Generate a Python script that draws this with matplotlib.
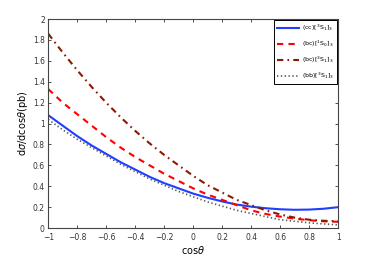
import matplotlib
matplotlib.use('Agg')
import matplotlib.pyplot as plt
import numpy as np

plt.rcParams['font.family'] = ['DejaVu Sans']
plt.rcParams['mathtext.fontset'] = 'dejavusans'

cos_theta = np.round(np.arange(-1.0, 1.001, 0.1), 2)

cc_3s1 = [1.08, 0.98, 0.88, 0.79, 0.71, 0.63, 0.56, 0.49, 0.43, 0.38, 0.33,
          0.29, 0.255, 0.225, 0.205, 0.19, 0.18, 0.175, 0.177, 0.185, 0.20]
bc_1s0 = [1.33, 1.20, 1.09, 0.98, 0.87, 0.77, 0.68, 0.60, 0.52, 0.45, 0.38,
          0.32, 0.27, 0.22, 0.17, 0.135, 0.11, 0.09, 0.075, 0.065, 0.06]
bc_3s1 = [1.86, 1.68, 1.51, 1.35, 1.20, 1.06, 0.93, 0.81, 0.70, 0.60, 0.50,
          0.41, 0.34, 0.27, 0.22, 0.17, 0.13, 0.10, 0.08, 0.07, 0.065]
bb_3s1 = [1.04, 0.94, 0.85, 0.77, 0.69, 0.61, 0.54, 0.47, 0.41, 0.35, 0.30,
          0.25, 0.21, 0.17, 0.14, 0.11, 0.08, 0.065, 0.05, 0.04, 0.03]

labels = [r'(cc)[$^3$S$_1$]$_3$', r'(bc)[$^1$S$_0$]$_3$',
          r'(bc)[$^3$S$_1$]$_3$', r'(bb)[$^3$S$_1$]$_3$']

xticks = [-1, -0.8, -0.6, -0.4, -0.2, 0, 0.2, 0.4, 0.6, 0.8, 1]
yticks = [0, 0.2, 0.4, 0.6, 0.8, 1, 1.2, 1.4, 1.6, 1.8, 2]

fig = plt.figure(figsize=(3.74, 2.58), dpi=100)
ax = fig.add_axes([0.129, 0.116, 0.775, 0.81])

ax.plot(cos_theta, cc_3s1, color='#1f3fff', lw=1.5, ls='-', label=labels[0])
ax.plot(cos_theta, bc_1s0, color='#ff0000', lw=1.5, ls=(0, (3, 2.5)), label=labels[1])
ax.plot(cos_theta, bc_3s1, color='#8b1a00', lw=1.5, ls=(0, (3, 2, 0.8, 2)), label=labels[2])
ax.plot(cos_theta, bb_3s1, color='#555555', lw=1.2, ls=(0, (0.8, 1.5)), label=labels[3])

ax.set_xlim(-1, 1)
ax.set_ylim(0, 2)
ax.set_xticks(xticks)
ax.set_xticklabels([f'{t:g}'.replace('-', '\u2212') for t in xticks])
ax.set_yticks(yticks)
ax.set_yticklabels([f'{t:g}' for t in yticks])
ax.tick_params(direction='in', top=True, right=True, labelsize=5.5,
               length=2.5, width=0.6, colors='#333333')
ax.tick_params(axis='x', pad=3.5)
ax.tick_params(axis='y', pad=2.5)
for s in ax.spines.values():
    s.set_linewidth(0.8)
    s.set_color('#444444')

ax.set_xlabel(r'cos$\theta$', fontsize=7, labelpad=1.5)
ax.set_ylabel(r'd$\sigma$/dcos$\theta$(pb)', fontsize=7, labelpad=2)

leg = ax.legend(loc='upper right', fontsize=4.5, fancybox=False, framealpha=1,
                edgecolor='black', borderaxespad=0.15, handlelength=3.6,
                labelspacing=0.9, borderpad=0.5, handletextpad=0.4)
leg.get_frame().set_linewidth(0.7)

fig.savefig('out.png', dpi=100)
